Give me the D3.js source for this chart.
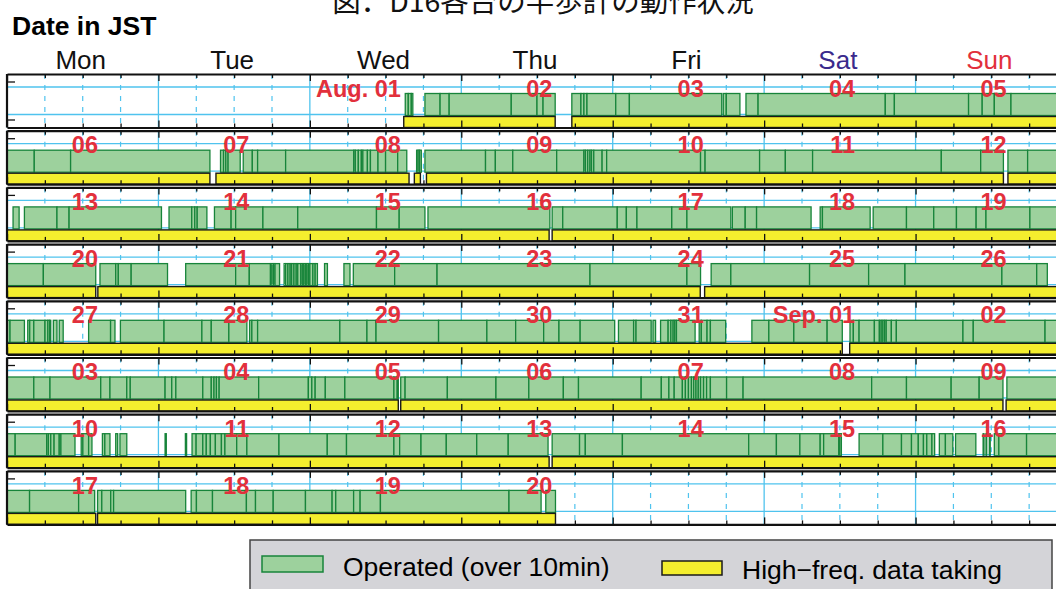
<html>
<head>
<meta charset="utf-8">
<title>D16 operation status</title>
<script src="https://d3js.org/d3.v7.min.js"></script>
<style>
  body { margin: 0; background: #fff; }
  svg { display: block; font-family: "Liberation Sans", Arial, sans-serif; }
  .frame path, .frame line { stroke: #111; }
  .ops rect { fill: #9dd19d; stroke: #17843a; stroke-width: 1.3; }
  .hf rect { fill: #f4ee2e; stroke: #1a1a1a; stroke-width: 1.4; }
  .date { fill: #e2303c; font-weight: bold; font-size: 23.5px; text-anchor: end; }
</style>
</head>
<body>
<svg width="1056" height="589"></svg>
<script>
// weekday header
const weekdays = ['Mon', 'Tue', 'Wed', 'Thu', 'Fri', 'Sat', 'Sun'];
const weekdayColors = ['#111', '#111', '#111', '#111', '#111', '#3a2a8c', '#e2303c'];

// red date labels, one list per week row (Mon..Sun)
const dateLabels = [
  ['', '', 'Aug. 01', '02', '03', '04', '05'],
  ['06', '07', '08', '09', '10', '11', '12'],
  ['13', '14', '15', '16', '17', '18', '19'],
  ['20', '21', '22', '23', '24', '25', '26'],
  ['27', '28', '29', '30', '31', 'Sep. 01', '02'],
  ['03', '04', '05', '06', '07', '08', '09'],
  ['10', '11', '12', '13', '14', '15', '16'],
  ['17', '18', '19', '20', '', '', '']
];

// operated periods: each run lists consecutive boundaries, in days since Monday 00:00 JST
const week1Ops = [
  [2.63, 2.65, 2.67, 2.68],
  [2.76, 2.86, 2.92, 3.33, 3.50, 3.54, 3.62],
  [3.73, 3.79, 3.81, 3.83, 4.02, 4.11, 4.72],
  [4.73, 4.75, 4.84],
  [4.88, 4.96, 5.80, 5.86, 6.35, 6.44, 6.52, 6.63, 7]
];
const week2Ops = [
  [0, 0.18, 0.42, 1.34],
  [1.41, 1.43, 1.445, 1.46, 1.54],
  [1.56, 1.62, 1.655, 1.84, 2.29, 2.30, 2.32, 2.34, 2.35, 2.38, 2.40, 2.45, 2.50, 2.58, 2.64],
  [2.705, 2.715, 2.725, 2.736],
  [2.76, 3.16, 3.225, 3.34, 3.63, 3.81, 3.82, 3.835, 3.85, 3.86, 3.875, 3.93, 3.96, 4.58, 4.61, 4.97, 5.14, 5.32, 6.17, 6.43, 6.58],
  [6.61, 6.74, 7]
];
const week3Ops = [
  [0.04, 0.08],
  [0.115, 0.33, 0.41, 1.02],
  [1.07, 1.22, 1.24, 1.256, 1.32],
  [1.37, 1.48, 1.51, 1.69, 1.92, 2.44, 2.59, 2.76],
  [2.78, 3.585],
  [3.60, 3.67, 4.03, 4.09, 4.16, 4.39, 4.49, 4.78],
  [4.79, 4.875, 4.95, 5.31],
  [5.37, 5.385, 5.70],
  [5.72, 5.94, 6.12, 6.27, 6.40, 6.465, 6.755, 7]
];
const week4Ops = [
  [0, 0.24, 0.586],
  [0.614, 0.718, 0.735, 0.82, 1.06],
  [1.18, 1.51, 1.60, 1.74, 1.75, 1.76, 1.77, 1.80],
  [1.83, 1.84, 1.855, 1.87, 1.88, 1.895, 1.91, 1.92, 1.94, 1.95, 1.96, 1.97, 1.98, 1.99, 2.00, 2.02, 2.035, 2.05],
  [2.097, 2.116],
  [2.225, 2.265],
  [2.287, 2.56, 2.84, 3.85, 4.49, 4.58],
  [4.65, 4.78, 5.30, 5.69, 5.93, 6.57, 6.80, 6.87]
];
const week5Ops = [
  [0, 0.02, 0.115],
  [0.137, 0.15, 0.177, 0.251, 0.27, 0.282, 0.289],
  [0.306, 0.33],
  [0.345, 0.371],
  [0.539, 0.684, 0.713],
  [0.749, 1.037, 1.287, 1.349, 1.465, 1.584],
  [1.602, 1.617, 1.655, 2.198, 2.377, 2.437, 2.85, 3.169, 3.359, 3.544, 3.645, 3.785, 4.013],
  [4.038, 4.138, 4.154, 4.254],
  [4.266, 4.283],
  [4.316, 4.366, 4.384, 4.399, 4.41, 4.421, 4.544],
  [4.571, 4.585, 4.623, 4.645, 4.746],
  [4.919, 5.031, 5.196, 5.416, 5.516],
  [5.567, 5.589, 5.627, 5.728, 5.761, 5.773, 5.784, 5.795, 5.806, 5.84, 5.873, 6.313, 6.381, 6.855, 7]
];
const week6Ops = [
  [0, 0.177, 0.284, 0.619, 0.68, 0.791, 0.814, 1.044, 1.088, 1.115, 1.293, 1.349, 1.367, 1.383, 1.401, 1.662, 1.99, 2.013, 2.035, 2.102, 2.231, 2.555, 2.577, 2.584],
  [2.60, 2.629, 2.908, 3.229, 3.446, 3.674, 3.774, 4.188, 4.321, 4.371, 4.406, 4.46, 4.48, 4.50, 4.52, 4.535, 4.55, 4.565, 4.58, 4.60, 4.62, 4.645, 4.752, 4.861, 5.71, 5.94, 6.235, 6.42, 6.577],
  [6.603, 7]
];
const week7Ops = [
  [0, 0.054, 0.262, 0.273, 0.289, 0.311, 0.345, 0.356, 0.449],
  [0.49, 0.501, 0.539, 0.561],
  [0.63, 0.646, 0.68],
  [0.718, 0.731],
  [0.746, 0.791],
  [1.044, 1.052],
  [1.178, 1.186],
  [1.222, 1.249, 1.293, 1.316, 1.343, 1.376, 1.416, 1.439, 1.517, 1.584, 1.796, 2.115, 2.242, 2.555, 2.593, 2.734, 2.901, 3.102, 3.31, 3.573],
  [3.60, 3.781, 3.819, 4.064, 4.898, 5.081, 5.236, 5.37, 5.393, 5.493, 5.50, 5.51],
  [5.627, 5.784, 5.907, 5.973, 6.018, 6.052, 6.074, 6.108, 6.126],
  [6.157, 6.197, 6.246],
  [6.264, 6.398],
  [6.446, 6.452],
  [6.465, 6.47],
  [6.487, 6.493],
  [6.52, 6.55, 6.733, 7]
];
const week8Ops = [
  [0, 0.149, 0.473, 0.579],
  [0.598, 0.626, 0.685, 0.704, 1.18],
  [1.216, 1.251, 1.357, 1.581, 1.641, 1.758, 1.971, 2.147, 2.171, 2.289, 2.332, 2.466, 3.315, 3.527],
  [3.558, 3.622]
];
const operated = [week1Ops, week2Ops, week3Ops, week4Ops, week5Ops, week6Ops, week7Ops, week8Ops];

// high-frequency data taking periods [start, end], days since Monday
const highFreq = [
  [[2.62, 3.62], [3.73, 7]],
  [[0, 1.34], [1.38, 2.655], [2.69, 2.73], [2.77, 6.58], [6.61, 7]],
  [[0, 3.58], [3.60, 7]],
  [[0, 0.586], [0.60, 4.578], [4.607, 7]],
  [[0, 5.516], [5.565, 7]],
  [[0, 2.584], [2.60, 6.577], [6.598, 7]],
  [[0, 3.58], [3.60, 7]],
  [[0, 0.586], [0.598, 3.622]]
];

const legendItems = ['Operated (over 10min)', 'High\u2212freq. data taking'];

const svg = d3.select('svg');

const x = d3.scaleLinear().domain([0, 7]).range([7, 1067]);
const rowTop = d3.scaleLinear().domain([0, 8]).range([74, 74 + 8 * 56.7]);
const rowH = 53.5;
const quarterDays = d3.range(0, 7.001, 0.25);

// title (cut off at the top edge, as in the original figure)
svg.append('text')
  .attr('x', 543).attr('y', 12)
  .attr('text-anchor', 'middle')
  .style('font-family', '"Noto Sans CJK JP", sans-serif')
  .style('font-size', '28.5px')
  .attr('fill', '#111')
  .text('図．D16各台の半歩計の動作状況');

svg.append('text')
  .attr('x', 12).attr('y', 35)
  .style('font-weight', 'bold').style('font-size', '26.5px')
  .text('Date in JST');

svg.append('g').selectAll('text')
  .data(weekdays)
  .join('text')
  .attr('x', (d, i) => x(i + 0.5) - 2)
  .attr('y', 68.5)
  .attr('text-anchor', 'middle')
  .style('font-size', '26px')
  .attr('fill', (d, i) => weekdayColors[i])
  .text(d => d);

operated.forEach((runs, r) => {
  const top = rowTop(r);
  const g = svg.append('g').attr('transform', `translate(0, ${top})`);

  // grid
  g.append('g').selectAll('line')
    .data(quarterDays)
    .join('line')
    .attr('x1', d => x(d)).attr('x2', d => x(d))
    .attr('y1', 0).attr('y2', rowH)
    .attr('stroke', '#4fc3ee')
    .attr('stroke-width', d => Number.isInteger(d) ? 1.3 : 1.2)
    .attr('stroke-dasharray', d => Number.isInteger(d) ? null : '5,6');
  g.append('g').selectAll('line')
    .data([13, 40.5])
    .join('line')
    .attr('x1', x(0)).attr('x2', x(7))
    .attr('y1', d => d).attr('y2', d => d)
    .attr('stroke', '#4fc3ee').attr('stroke-width', 1.3);

  // small left ticks
  g.append('g').selectAll('line')
    .data([8, 46])
    .join('line')
    .attr('x1', x(0)).attr('x2', x(0) + 8)
    .attr('y1', d => d).attr('y2', d => d)
    .attr('stroke', '#111').attr('stroke-width', 1.3);

  // operated periods
  const pieces = runs.flatMap(run => d3.pairs(run));
  g.append('g').attr('class', 'ops').selectAll('rect')
    .data(pieces)
    .join('rect')
    .attr('x', d => x(d[0]))
    .attr('width', d => x(d[1]) - x(d[0]))
    .attr('y', 19.5)
    .attr('height', 22);

  // high-frequency data taking
  g.append('g').attr('class', 'hf').selectAll('rect')
    .data(highFreq[r])
    .join('rect')
    .attr('x', d => x(d[0]))
    .attr('width', d => x(d[1]) - x(d[0]))
    .attr('y', 42.5)
    .attr('height', rowH - 42.5);

  // frame with tick marks
  const topAxis = g.append('g').attr('class', 'frame')
    .call(d3.axisBottom(x).tickValues(quarterDays).tickFormat('').tickSizeOuter(0));
  topAxis.selectAll('.tick line').attr('y2', d => Number.isInteger(d) ? 7 : 4).attr('stroke-width', 1.3);
  topAxis.select('.domain').attr('stroke-width', 2.2);

  const botAxis = g.append('g').attr('class', 'frame')
    .attr('transform', `translate(0, ${rowH})`)
    .call(d3.axisTop(x).tickValues(quarterDays).tickFormat('').tickSizeOuter(0));
  botAxis.selectAll('.tick line').attr('y2', d => Number.isInteger(d) ? -7 : -4).attr('stroke-width', 1.3);
  botAxis.select('.domain').attr('stroke-width', 2.2);

  g.append('line')
    .attr('x1', x(0)).attr('x2', x(0))
    .attr('y1', 0).attr('y2', rowH)
    .attr('stroke', '#111').attr('stroke-width', 2.2);

  // date labels
  g.append('g').selectAll('text')
    .data(dateLabels[r])
    .join('text')
    .attr('class', 'date')
    .attr('x', (d, i) => x(i) + 91)
    .attr('y', 22.7)
    .text(d => d);
});

// legend
const legend = svg.append('g');
legend.append('rect')
  .attr('x', 250).attr('y', 540)
  .attr('width', 802).attr('height', 60)
  .attr('fill', '#d4d4d8').attr('stroke', '#444').attr('stroke-width', 1.5);
legend.append('rect')
  .attr('x', 262).attr('y', 556)
  .attr('width', 61).attr('height', 16)
  .attr('fill', '#9dd19d').attr('stroke', '#17843a').attr('stroke-width', 1.5);
legend.append('text')
  .attr('x', 343).attr('y', 576)
  .style('font-size', '26.5px')
  .text(legendItems[0]);
legend.append('rect')
  .attr('x', 662).attr('y', 561)
  .attr('width', 60).attr('height', 14)
  .attr('fill', '#f4ee2e').attr('stroke', '#1a1a1a').attr('stroke-width', 1.5);
legend.append('text')
  .attr('x', 742).attr('y', 579)
  .style('font-size', '26.5px')
  .text(legendItems[1]);
</script>
</body>
</html>
